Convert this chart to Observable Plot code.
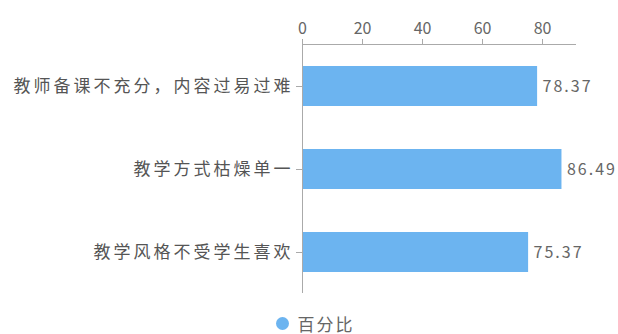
<!DOCTYPE html>
<html>
<head>
<meta charset="utf-8">
<script src="https://cdn.jsdelivr.net/npm/d3@7"></script>
<script src="https://cdn.jsdelivr.net/npm/@observablehq/plot@0.6"></script>
<style>
  html, body { margin: 0; padding: 0; background: #fff; }
  body { width: 618px; height: 334px; overflow: hidden; font-family: "Noto Sans CJK SC", "Noto Sans", sans-serif; }
  #legend { display: flex; justify-content: center; align-items: center; height: 36px; font-size: 17px; color: #666; gap: 9px; margin-left: 12px; letter-spacing: 2px; }
  #legend .dot { width: 13px; height: 13px; border-radius: 50%; background: #6cb4f0; display: inline-block; }
  g[aria-label="y-axis tick label"] text { letter-spacing: 3px; }
  g.vlabel text { letter-spacing: 2px; }
</style>
</head>
<body>
<div id="chart"></div>
<div id="legend"><span class="dot"></span><span>百分比</span></div>
<script>
const categories = ["教师备课不充分，内容过易过难", "教学方式枯燥单一", "教学风格不受学生喜欢"];
const values = [78.37, 86.49, 75.37];
const xTicks = [0, 20, 40, 60, 80];
const seriesName = "百分比";

const data = categories.map((c, i) => ({category: c, value: values[i]}));

const marks = [
  Plot.barX(data, {y: "category", x: "value", fill: "#6cb4f0"}),
  Plot.text(data, {y: "category", x: "value", text: d => d.value.toFixed(2), textAnchor: "start", dx: 5, fontSize: 16, fill: "#666", className: "vlabel"}),
  Plot.ruleX([0], {stroke: "#aaa"}),
  Plot.axisX({anchor: "top", ticks: xTicks, tickSize: 6, tickPadding: 5, fontSize: 16, color: "#666", stroke: "#aaa", label: null}),
  Plot.axisY({anchor: "left", tickSize: 6, tickPadding: 3, fontSize: 17, color: "#555", stroke: "#aaa", label: null})
];
try { marks.push(Plot.frame({anchor: "top", stroke: "#aaa"})); } catch (e) {}

const chart = Plot.plot({
  width: 618,
  height: 305,
  marginLeft: 302,
  marginRight: 43,
  marginTop: 44,
  marginBottom: 12,
  style: {fontFamily: "'Noto Sans CJK SC', sans-serif", background: "#fff"},
  x: {domain: [0, 91]},
  y: {domain: categories, paddingInner: 0.52, paddingOuter: 0.26},
  marks
});
document.getElementById("chart").appendChild(chart);
</script>
</body>
</html>
